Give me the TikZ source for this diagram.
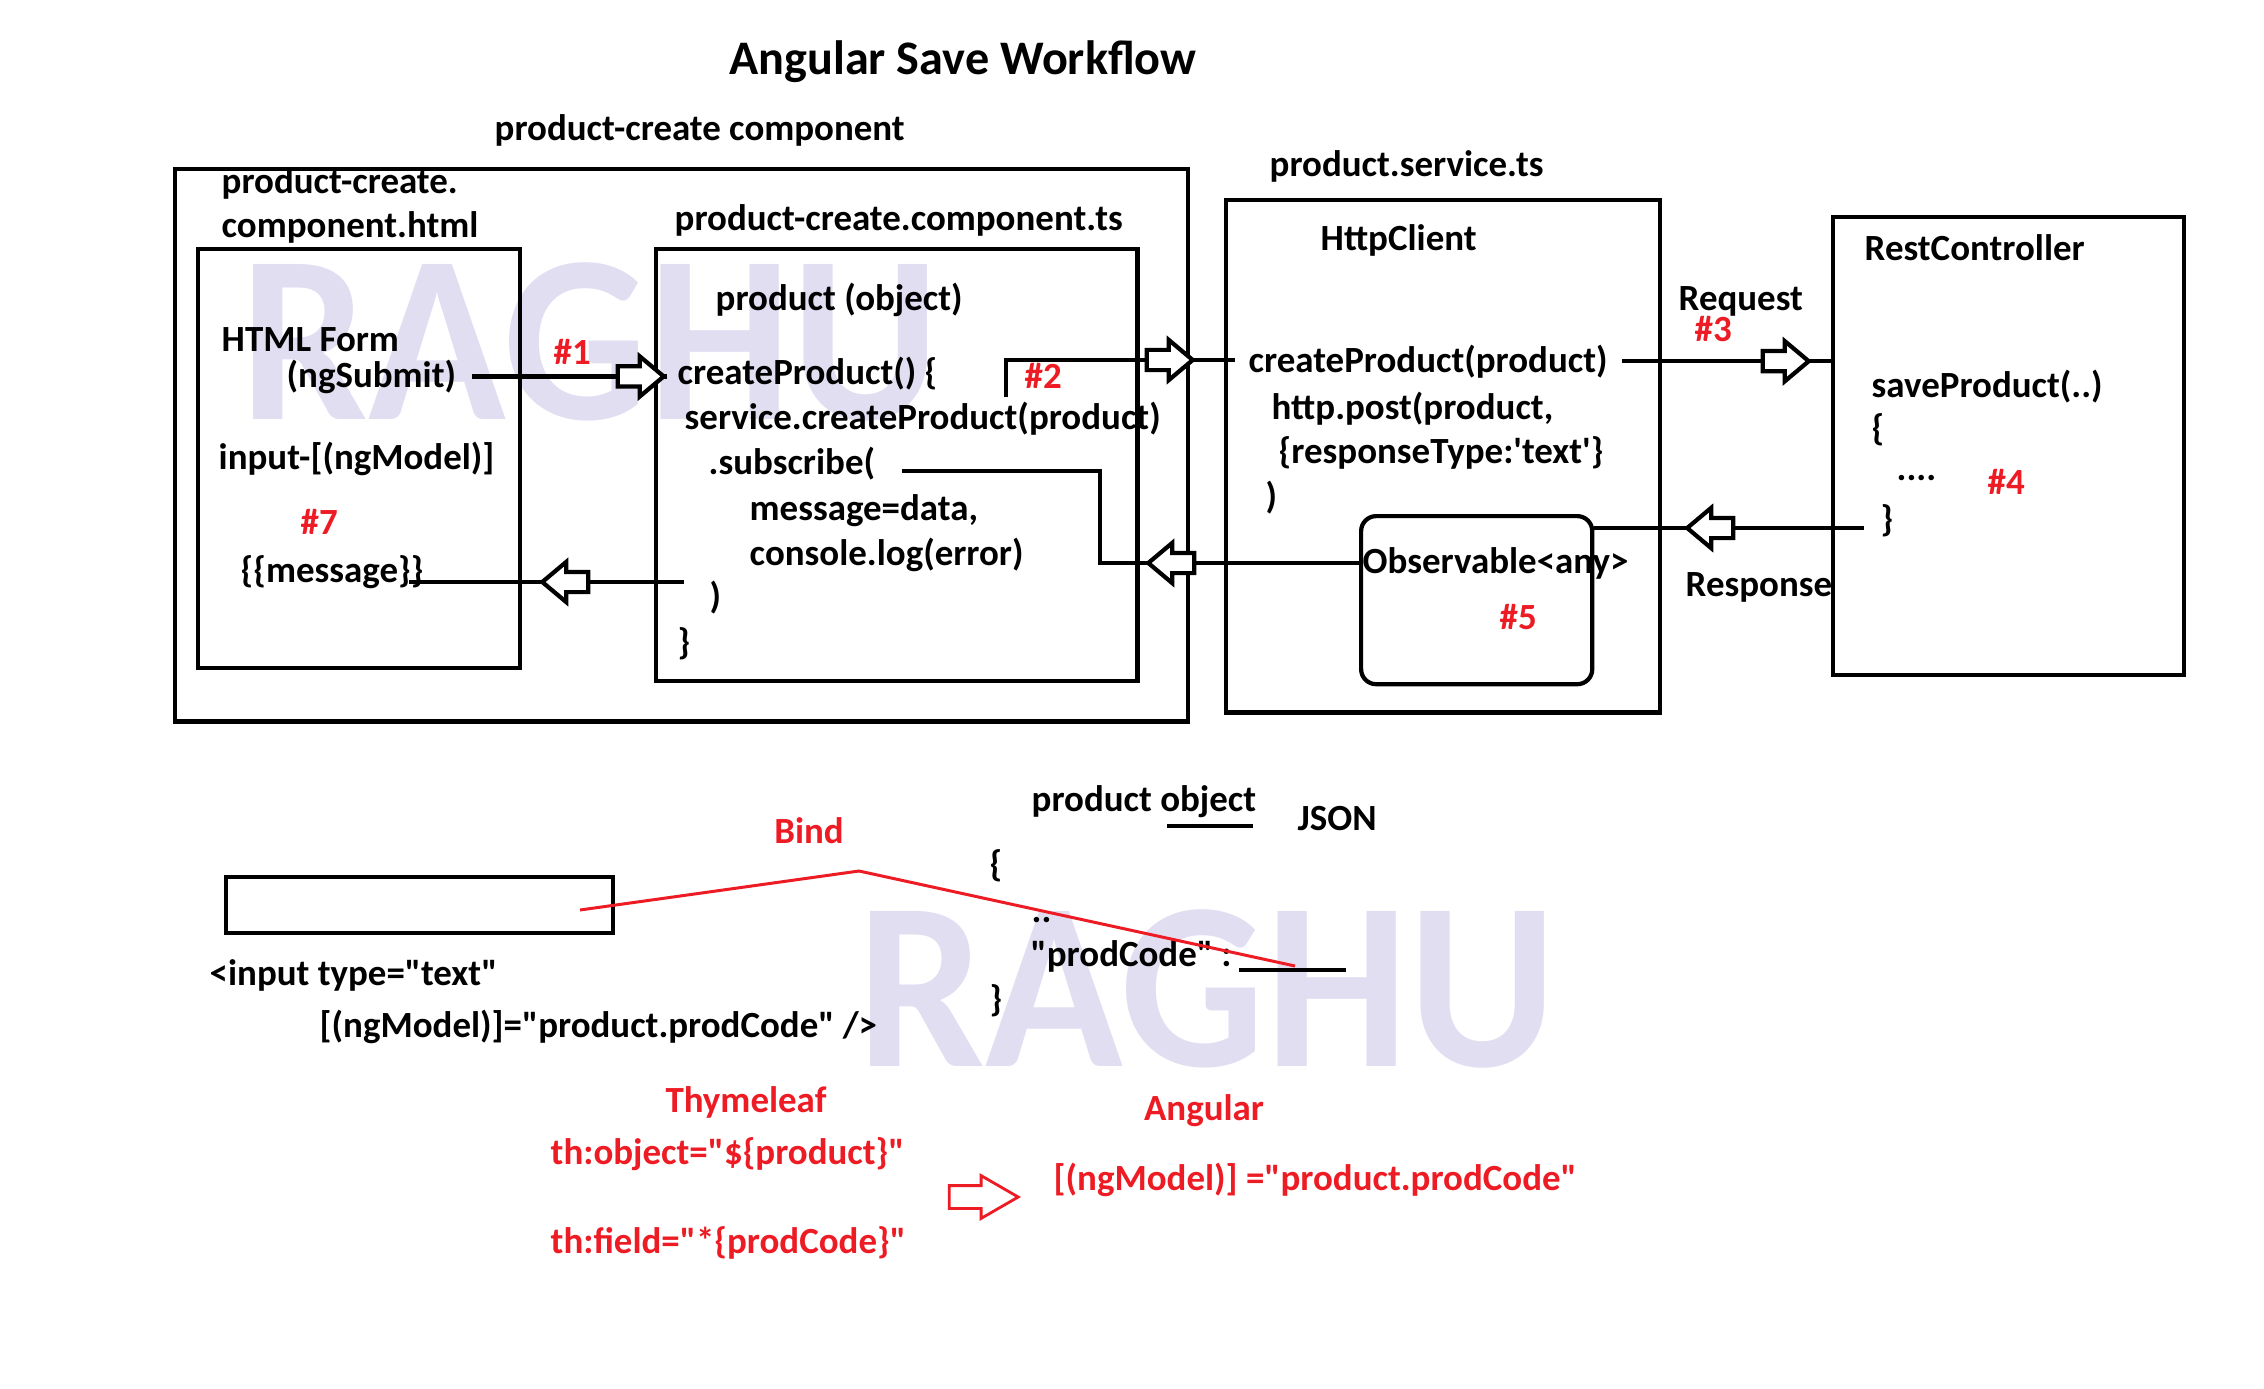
\documentclass[tikz,border=0pt]{standalone}
\usepackage{fontspec}
\setmainfont{Carlito}
\usetikzlibrary{shapes.arrows}
\definecolor{wmcol}{RGB}{226,222,242}
\definecolor{pred}{RGB}{237,28,36}
\newcommand\bodyfont{\fontsize{10.5}{12.6}\selectfont\bfseries}
\newcommand\dq{\textquotedbl}
\begin{document}
\begin{tikzpicture}[x=0.01cm,y=-0.01cm,
  txt/.style={font=\bodyfont, inner sep=0pt, anchor=base west},
  rtxt/.style={txt, text=pred},
  box/.style={draw, line width=1.2pt, inner sep=0pt, anchor=north west},
  conn/.style={line width=1.2pt},
  harr/.style={single arrow, draw, line width=1.2pt, fill=white, inner sep=0pt,
    text height=0.16cm, text depth=0pt, minimum height=0.46cm,
    single arrow head extend=0.1cm, single arrow tip angle=80, anchor=tip},
  rarr/.style={single arrow, draw=pred, line width=0.8pt, fill=white, inner sep=0pt,
    text height=0.2cm, text depth=0pt, minimum height=0.69cm,
    single arrow head extend=0.1cm, single arrow tip angle=60, anchor=tip},
  wm/.style={text=wmcol, inner sep=0pt, anchor=base west, font=\fontsize{68}{70}\selectfont\bfseries},
  bindline/.style={draw=pred, line width=0.85pt}
]
\useasboundingbox (0,0) rectangle (2264,1388);

% watermarks
\node[wm] (wm1) at (240,419) {\scalebox{0.95}[1]{RAGHU}};
\node[wm] (wm2) at (857,1066) {\scalebox{0.95}[1]{RAGHU}};

% title
\node[font=\fontsize{13.7}{16}\selectfont\bfseries, inner sep=0pt, anchor=base] (title) at (963,75) {Angular Save Workflow};

% boxes
\node[box, minimum width=10.12cm, minimum height=5.52cm] (outer) at (173,167) {};
\node[box, minimum width=3.22cm, minimum height=4.19cm] (html) at (196,247) {};
\node[box, minimum width=4.81cm, minimum height=4.32cm] (ts) at (654,247) {};
\node[box, minimum width=4.34cm, minimum height=5.12cm] (svc) at (1224,198) {};
\node[box, minimum width=2.31cm, minimum height=1.68cm, rounded corners=0.15cm] (obs) at (1359,514) {};
\node[box, minimum width=3.51cm, minimum height=4.58cm] (rest) at (1831,215) {};

% component labels
\node[txt] (pcc) at (494,140) {product-create component};
\node[txt] (h1) at (221,193) {product-create.};
\node[txt] (h2) at (221,237) {component.html};
\node[txt] (tsl) at (674,231) {product-create.component.ts};
\node[txt] (svl) at (1269,176) {product.service.ts};
\node[txt] (http) at (1320,251) {HttpClient};
\node[txt] (rc) at (1864,261) {RestController};

% html box content
\node[txt] (form) at (221,351) {HTML Form};
\node[txt] (ngsub) at (286,387) {(ngSubmit)};
\node[txt] (inp) at (218,469) {input-[(ngModel)]};
\node[rtxt] (n7) at (300,534) {\#7};
\node[txt] (msg) at (240,582) {\{\{message\}\}};
\node[rtxt] (n1) at (553,364) {\#1};

% ts box content
\node[txt] (pobj) at (715,310) {product (object)};
\node[txt] (cp1) at (677,384) {createProduct() \{};
\node[txt] (scp) at (684,429) {service.createProduct(product)};
\node[txt] (sub) at (708,474) {.subscribe(};
\node[txt] (md) at (749,520) {message=data,};
\node[txt] (cl) at (749,565) {console.log(error)};
\node[txt] (cpar) at (709,608) {)};
\node[txt] (cbr) at (677,654) {\}};
\node[rtxt] (n2) at (1024,388) {\#2};

% service content
\node[txt] (cpp) at (1248,372) {createProduct(product)};
\node[txt] (hp) at (1271,419) {http.post(product,};
\node[txt] (rt) at (1278,463) {\{responseType:\textquotesingle text\textquotesingle\}};
\node[txt] (spar) at (1265,508) {)};
\node[txt] (obsl) at (1362,573) {Observable<any>};
\node[rtxt] (n5) at (1499,629) {\#5};

% request / response
\node[txt] (req) at (1678,310) {Request};
\node[rtxt] (n3) at (1694,341) {\#3};
\node[txt] (resp) at (1685,596) {Response};

% rest content
\node[txt] (sp) at (1871,397) {saveProduct(..)};
\node[txt] (rb1) at (1871,440) {\{};
\node[txt] (dots) at (1896,480) {....};
\node[rtxt] (n4) at (1987,494) {\#4};
\node[txt] (rb2) at (1880,531) {\}};

% connectors
% #1
\draw[conn] ([xshift=0.15cm]ngsub.east) -- ([xshift=-0.1cm]ngsub.east -| cp1.west);
\node[harr] (a1) at ([xshift=-0.1cm]ngsub.east -| cp1.west) {};
% #2
\coordinate (c2a) at (1006,397);
\coordinate (c2b) at (1006,360);
\draw[conn] (c2a) -- (c2b) -- ([xshift=-0.13cm]c2b -| cpp.west);
\node[harr] (a2) at ([xshift=-0.52cm]c2b -| cpp.west) {};
% #3
\draw[conn] ([xshift=0.14cm]cpp.east) -- (cpp.east -| rest.west);
\node[harr] (a3) at ([xshift=-0.19cm]cpp.east -| rest.west) {};
% response
\coordinate (r1) at (1864,528);
\draw[conn] (r1) -- (r1 -| obs.east);
\node[harr, rotate=180] (a4) at ([xshift=-1.8cm]r1) {};
% #6
\coordinate (c6a) at (1100,563);
\coordinate (c6b) at (1100,471);
\coordinate (c6c) at (902,471);
\draw[conn] (obs.west |- c6a) -- (c6a) -- (c6b) -- (c6c);
\node[harr, rotate=180] (a6) at (1145,563) {};
% #7
\coordinate (c7a) at (684,582);
\coordinate (c7b) at (409,582);
\draw[conn] (c7a) -- (c7b);
\node[harr, rotate=180] (a7) at (539,582) {};

% bottom part
\node[box, minimum width=3.87cm, minimum height=0.56cm] (ibox) at (224,875) {};
\node[txt] (it1) at (209,985) {<input type=\dq text\dq};
\node[txt] (it2) at (319,1037) {[(ngModel)]=\dq product.prodCode\dq\ />};
\node[rtxt, anchor=base] (bind) at (809,843) {Bind};
\node[txt] (po) at (1031,811) {product object};
\node[txt] (json) at (1297,830) {JSON};
\node[txt] (jb1) at (989,876) {\{};
\node[txt] (jd) at (1031,922) {..};
\node[txt] (pc) at (1030,966) {\dq prodCode\dq\ :};
\node[txt] (jb2) at (989,1011) {\}};
\draw[line width=0.9pt] (1167,826) -- (1253,826);
\coordinate (blank1) at (1239,970);
\coordinate (blank2) at (1346,970);
\draw[line width=1.2pt] (blank1) -- (blank2);
\coordinate (b1) at (580,910);
\coordinate (b2) at (859,871);
\coordinate (b3) at (1295,966);
\draw[bindline] (b1) -- (b2) -- (b3);

\node[rtxt, anchor=base] (thy) at (746,1112) {Thymeleaf};
\node[rtxt] (tho) at (550,1164) {th:object=\dq\$\{product\}\dq};
\node[rtxt] (thf) at (550,1253) {th:field=\dq*\{prodCode\}\dq};
\node[rtxt, anchor=base] (ang) at (1204,1120) {Angular};
\node[rtxt] (ngm) at (1053,1190) {[(ngModel)] =\dq product.prodCode\dq};
\node[rarr] (ra) at (1021,1197) {};
\end{tikzpicture}
\end{document}
